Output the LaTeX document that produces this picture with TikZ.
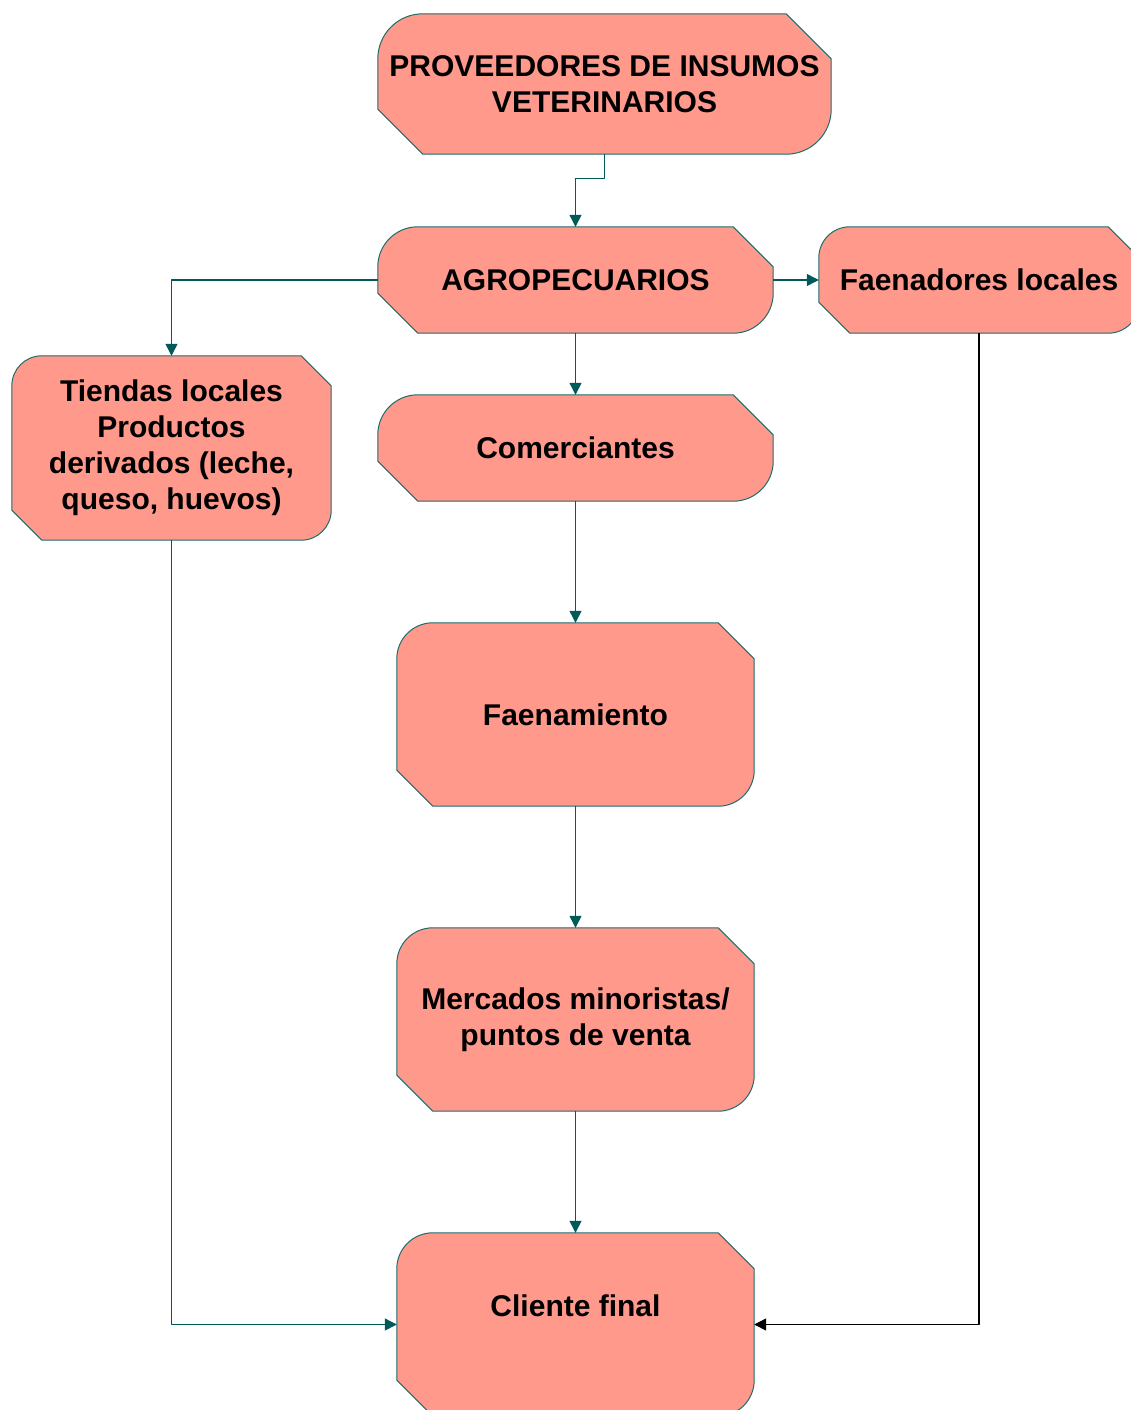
\documentclass[tikz,border=0pt]{standalone}
\usepackage{fontspec}
\setmainfont{Liberation Sans}
\usetikzlibrary{arrows.meta}
\pgfdeclarelayer{background}
\pgfsetlayers{background,main}
\definecolor{boxfill}{RGB}{255,153,140}
\definecolor{boxline}{RGB}{33,107,107}
\definecolor{linkteal}{RGB}{0,90,90}
\tikzset{
  stage/.style={inner sep=0pt,align=center,font=\fontsize{30}{36}\selectfont\bfseries},
  stageshape/.style={fill=boxfill,draw=boxline,line width=1pt},
  link/.style={draw=linkteal,line width=1.2pt,-{Triangle[length=12pt,width=12pt]}},
}
\begin{document}
\begin{tikzpicture}[x=1pt,y=1pt,line join=round]
  \useasboundingbox (0,0) rectangle (1131,-1410);
  % stages
  \node[stage,minimum width=453pt,minimum height=140pt] (prov) at (604.5,-84) {PROVEEDORES DE INSUMOS\\VETERINARIOS};
  \node[stage,minimum width=395pt,minimum height=106pt] (agro) at (575.5,-280) {AGROPECUARIOS};
  \node[stage,minimum width=320pt,minimum height=106pt] (faenlocal) at (979,-280) {Faenadores locales};
  \node[stage,minimum width=319pt,minimum height=184pt] (tiendas) at (171.5,-448) {Tiendas locales\\Productos\\derivados (leche,\\queso, huevos)};
  \node[stage,minimum width=395pt,minimum height=106pt] (comer) at (575.5,-448) {Comerciantes};
  \node[stage,minimum width=357pt,minimum height=183pt] (faenam) at (575.5,-714.5) {Faenamiento};
  \node[stage,minimum width=357pt,minimum height=183pt] (merc) at (575.5,-1019.5) {Mercados minoristas/\\puntos de venta};
  \node[stage,minimum width=357pt,minimum height=183pt,text depth=38pt] (cliente) at (575.5,-1324.5) {Cliente final};
  % outlines: rounded top left / bottom right, cut top right / bottom left
  \begin{pgfonlayer}{background}
    \foreach \n/\c in {prov/45,agro/40,faenlocal/31,tiendas/30,comer/40,faenam/36,merc/36,cliente/36}
      \draw[stageshape] ([xshift=-\c pt]\n.north east) -- ([xshift=\c pt]\n.north west)
        arc[start angle=90,end angle=180,radius=\c pt] -- ([yshift=\c pt]\n.south west)
        -- ([xshift=\c pt]\n.south west) -- ([xshift=-\c pt]\n.south east)
        arc[start angle=270,end angle=360,radius=\c pt] -- ([yshift=-\c pt]\n.north east) -- cycle;
  \end{pgfonlayer}
  % links
  \draw[link] (prov.south) -- ++(0,-24) -| (agro.north);
  \draw[link] (agro.east) -- (faenlocal.west);
  \draw[link] (agro.west) -| (tiendas.north);
  \draw[link] (agro.south) -- (comer.north);
  \draw[link] (comer.south) -- (faenam.north);
  \draw[link] (faenam.south) -- (merc.north);
  \draw[link] (merc.south) -- (cliente.north);
  \draw[link] (tiendas.south) |- (cliente.west);
  \draw[link,draw=black] (faenlocal.south) |- (cliente.east);
\end{tikzpicture}
\end{document}
